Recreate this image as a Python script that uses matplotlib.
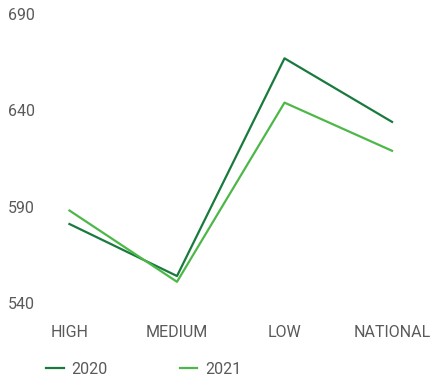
import matplotlib
matplotlib.use("Agg")
import matplotlib.pyplot as plt

categories = ["HIGH", "MEDIUM", "LOW", "NATIONAL"]
scores_2020 = [581, 554, 667, 634]
scores_2021 = [588, 551, 644, 619]
y_ticks = [540, 590, 640, 690]

DARK = "#187a3c"
LIGHT = "#4db848"
TEXT = "#5a5a5a"

plt.rcParams["font.family"] = ["Roboto", "DejaVu Sans"]

fig = plt.figure(figsize=(4.3, 3.8), dpi=100)
ax = fig.add_axes([40 / 430, 77 / 380, 390 / 430, 289 / 380])

x = list(range(len(categories)))
ax.plot(x, scores_2020, color=DARK, lw=1.6, label="2020", clip_on=False)
ax.plot(x, scores_2021, color=LIGHT, lw=1.6, label="2021", clip_on=False)

ax.set_xlim(-0.274, 3.353)
ax.set_ylim(540, 690)
ax.set_yticks(y_ticks)
ax.set_xticks(x)
ax.set_xticklabels(categories)
for s in ax.spines.values():
    s.set_visible(False)
ax.tick_params(axis="both", length=0, labelsize=11.5, labelcolor=TEXT)
ax.tick_params(axis="y", pad=3.6)
ax.tick_params(axis="x", pad=16)

fig.legend(loc="center left", bbox_to_anchor=(46 / 430, 11 / 380), ncol=2,
           frameon=False, fontsize=11.5, handlelength=1.1, handletextpad=0.5,
           columnspacing=4.5, labelcolor=TEXT, borderaxespad=0, borderpad=0)

fig.savefig("out.png", dpi=100)
